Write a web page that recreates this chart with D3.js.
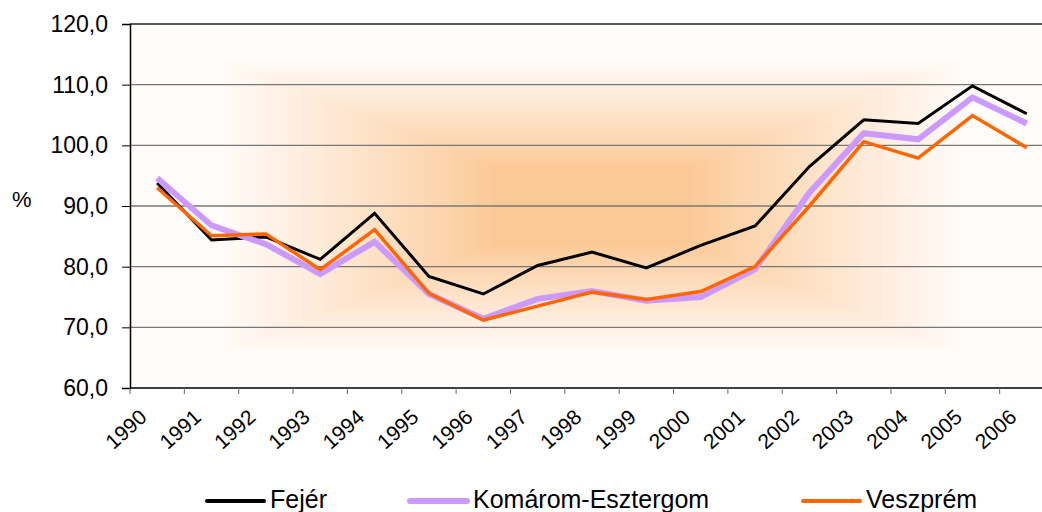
<!DOCTYPE html>
<html lang="hu">
    <head>
        <meta charset="utf-8">
        <title>Fejér, Komárom-Esztergom, Veszprém</title>
        <script src="https://d3js.org/d3.v7.min.js"></script>
        <style>
            body { margin: 0; background: #fff; }
            svg { display: block; font-family: "Liberation Sans", Arial, sans-serif; }
        </style>
    </head>
    <body>
        <script type="text/javascript">
        'use strict';

        // data
        var years = ["1990","1991","1992","1993","1994","1995","1996","1997","1998",
                     "1999","2000","2001","2002","2003","2004","2005","2006"];
        var fejer    = [93.8, 84.4, 84.9, 81.2, 88.8, 78.4, 75.5, 80.2, 82.4,
                        79.8, 83.5, 86.7, 96.5, 104.2, 103.6, 109.8, 105.2];
        var komarom  = [94.6, 86.8, 83.7, 78.8, 84.1, 75.5, 71.4, 74.7, 76.0,
                        74.4, 75.0, 79.6, 92.2, 102.0, 101.0, 107.9, 103.6];
        var veszprem = [93.0, 85.1, 85.4, 79.5, 86.1, 75.6, 71.2, 73.5, 75.8,
                        74.6, 75.9, 80.0, 90.0, 100.6, 97.9, 104.9, 99.6];
        var seriesNames = ["Fejér", "Komárom-Esztergom", "Veszprém"];
        var yTicks = [60, 70, 80, 90, 100, 110, 120];

        var w = 1042, h = 512;
        var plotLeft = 130, plotTop = 24, plotBottom = 388;
        var plotRight = 1054;   // plot area runs past the window edge

        var svg = d3.select("body").append("svg")
            .attr("width", w).attr("height", h);

        var x = d3.scaleBand().domain(years).range([plotLeft, plotRight]);
        var y = d3.scaleLinear().domain([60, 120]).range([plotBottom, plotTop]);

        // background: rectangular gradient from the centre
        var cx = (plotLeft + plotRight) / 2, cy = (plotTop + plotBottom) / 2;
        var hw = (plotRight - plotLeft) / 2, hh = (plotBottom - plotTop) / 2;
        var col = d3.interpolateRgb("#fcc996", "#fffcfa");
        var steps = d3.range(60);
        svg.append("rect")
            .attr("x", plotLeft).attr("y", plotTop)
            .attr("width", plotRight - plotLeft).attr("height", plotBottom - plotTop)
            .attr("fill", "#fffcfa");
        svg.append("g").selectAll("rect")
            .data(steps)
            .enter()
            .append("rect")
            .attr("x", function(d){ return cx - hw * (1 - d / steps.length); })
            .attr("y", function(d){ return cy - hh * (1 - d / steps.length); })
            .attr("width", function(d){ return 2 * hw * (1 - d / steps.length); })
            .attr("height", function(d){ return 2 * hh * (1 - d / steps.length); })
            .attr("fill", function(d){
                var t = 1 - d / steps.length;
                var s = Math.max(0, Math.min(1, (t - 0.22) / 0.6));
                return col(Math.pow(s, 0.9));
            });

        // gridlines
        svg.append("g").selectAll("line")
            .data(yTicks.slice(1))
            .enter()
            .append("line")
            .attr("x1", plotLeft).attr("x2", plotRight)
            .attr("y1", function(d){ return y(d); })
            .attr("y2", function(d){ return y(d); })
            .attr("stroke", function(d){ return d === 120 ? "#222" : "#777"; })
            .attr("stroke-width", 1.3);

        // y axis
        var yAxis = d3.axisLeft(y)
            .tickValues(yTicks)
            .tickSize(8)
            .tickPadding(14)
            .tickFormat(function(d){ return d3.format(".1f")(d).replace(".", ","); });
        var gy = svg.append("g")
            .attr("transform", "translate(" + plotLeft + ",0)")
            .call(yAxis);
        gy.select(".domain").attr("stroke", "#000").attr("stroke-width", 1.5);
        gy.selectAll(".tick line").attr("stroke", "#000");
        gy.selectAll("text")
            .attr("font-size", "23px")
            .attr("font-family", "Liberation Sans, Arial, sans-serif")
            .attr("fill", "#000");

        // x axis
        var gx = svg.append("g")
            .attr("transform", "translate(0," + plotBottom + ")");
        gx.append("line")
            .attr("x1", plotLeft).attr("x2", plotRight)
            .attr("stroke", "#000").attr("stroke-width", 1.5);
        gx.selectAll("line.tk")
            .data(years)
            .enter()
            .append("line")
            .attr("class", "tk")
            .attr("x1", function(d){ return x(d); })
            .attr("x2", function(d){ return x(d); })
            .attr("y1", 0).attr("y2", 6)
            .attr("stroke", "#666");
        gx.selectAll("text")
            .data(years)
            .enter()
            .append("text")
            .text(function(d){ return d; })
            .attr("text-anchor", "end")
            .attr("font-size", "21px")
            .attr("transform", function(d){
                return "translate(" + (x(d) + x.bandwidth() / 2 - 9) + ",31) rotate(-42)";
            });

        // % label
        svg.append("text")
            .attr("x", 12).attr("y", 207)
            .attr("font-size", "22px")
            .text("%");

        // lines
        var line = d3.line()
            .x(function(d, i){ return x(years[i]) + x.bandwidth() / 2; })
            .y(function(d){ return y(d); });
        var series = [
            { name: seriesNames[0], values: fejer,    color: "#000000", width: 3 },
            { name: seriesNames[1], values: komarom,  color: "#cc99ff", width: 6 },
            { name: seriesNames[2], values: veszprem, color: "#ff6600", width: 3.5 }
        ];
        svg.append("g").selectAll("path")
            .data(series)
            .enter()
            .append("path")
            .attr("d", function(d){ return line(d.values); })
            .attr("fill", "none")
            .attr("stroke", function(d){ return d.color; })
            .attr("stroke-width", function(d){ return d.width; })
            .attr("stroke-linejoin", "miter");

        // legend
        var legX = [207, 410, 803];
        var leg = svg.append("g").selectAll("g")
            .data(series)
            .enter()
            .append("g")
            .attr("transform", function(d, i){ return "translate(" + legX[i] + ",501)"; });
        leg.append("line")
            .attr("x1", 0).attr("x2", 57)
            .attr("stroke", function(d){ return d.color; })
            .attr("stroke-width", function(d){ return d.width === 6 ? 6 : 4; })
            .attr("stroke-linecap", "round");
        leg.append("text")
            .attr("x", 63).attr("y", 7)
            .attr("font-size", "25px")
            .text(function(d){ return d.name; });
        </script>
    </body>
</html>
